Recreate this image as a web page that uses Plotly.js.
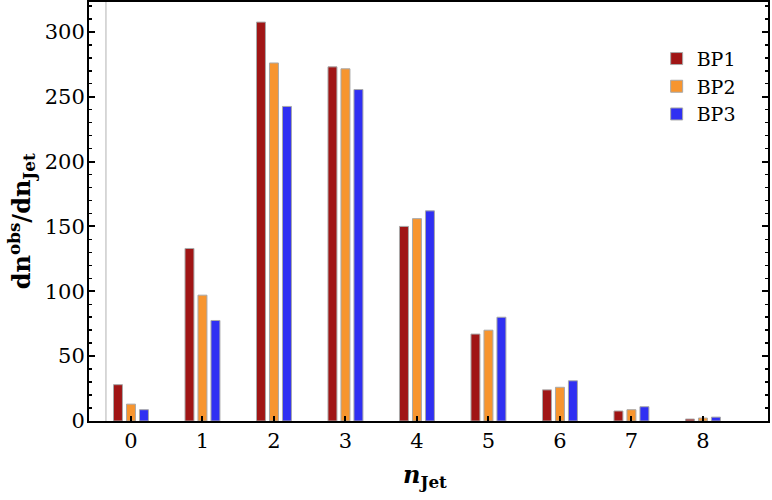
<!DOCTYPE html>
<html>
<head>
<meta charset="utf-8">
<script src="https://cdn.plot.ly/plotly-3.0.1.min.js"></script>
<style>html,body{margin:0;padding:0;background:#fff;}</style>
</head>
<body>
<div id="chart" style="width:772px;height:500px;"></div>
<script>
const categories = ["0","1","2","3","4","5","6","7","8"];
const bp1 = [28, 133, 307.5, 273, 150, 67, 24, 7.7, 1.5];
const bp2 = [13, 97, 276, 271.5, 156, 70, 26, 8.7, 2.3];
const bp3 = [8.7, 77.5, 242.5, 255.5, 162, 80, 31, 11, 3];
const seriesNames = ["BP1", "BP2", "BP3"];
const xTitle = "<b><i>n</i><sub>Jet</sub></b>";
const yTitle = "<b>dn<sup>obs</sup>/dn<sub>Jet</sub></b>";

const colors = ["#a01515", "#f7952f", "#2f2ff2"];
const xIdx = categories.map((c, i) => i);

const traces = [bp1, bp2, bp3].map((vals, k) => ({
  type: "bar",
  name: seriesNames[k],
  x: xIdx,
  y: vals,
  marker: {color: colors[k], line: {color: "#a8a8a8", width: 1}},
  hoverinfo: "y"
}));

const font = "DejaVu Serif";

const layout = {
  width: 772, height: 500,
  margin: {l: 89, r: 4, t: 2, b: 79},
  paper_bgcolor: "#fff", plot_bgcolor: "#fff",
  barmode: "group",
  bargap: 0.455,
  bargroupgap: 0.31,
  showlegend: true,
  legend: {
    x: 0.836, y: 0.91, xanchor: "left", yanchor: "top",
    bgcolor: "rgba(0,0,0,0)",
    font: {family: font, size: 19, color: "#000"},
    tracegroupgap: 0
  },
  xaxis: {
    type: "linear",
    range: [-0.587, 8.91],
    tickmode: "array",
    tickvals: xIdx,
    ticktext: categories,
    ticks: "inside", ticklen: 5, tickwidth: 2, tickcolor: "#000",
    showline: true, linecolor: "#000", linewidth: 2, mirror: true,
    showgrid: false, zeroline: false,
    tickfont: {family: font, size: 21, color: "#000"}
  },
  yaxis: {
    range: [0, 323],
    dtick: 50, tick0: 0,
    ticks: "inside", ticklen: 6, tickwidth: 2, tickcolor: "#000",
    minor: {dtick: 10, ticks: "inside", ticklen: 3, tickwidth: 1.5, tickcolor: "#000"},
    showline: true, linecolor: "#000", linewidth: 2, mirror: "ticks",
    showgrid: false, zeroline: false,
    ticklabelstandoff: -2,
    tickfont: {family: font, size: 21, color: "#000"}
  },
  annotations: [
    {text: xTitle, xref: "paper", yref: "paper", x: 0.495, y: -0.131,
     xanchor: "center", yanchor: "middle", showarrow: false,
     font: {family: font, size: 24, color: "#000"}},
    {text: yTitle, xref: "paper", yref: "paper", x: -0.1, y: 0.477,
     xanchor: "center", yanchor: "middle", showarrow: false, textangle: -90,
     font: {family: font, size: 24, color: "#000"}}
  ],
  shapes: [{
    type: "line", xref: "x", yref: "paper",
    x0: -0.35, x1: -0.35, y0: 0, y1: 1,
    line: {color: "#cccccc", width: 1.5},
    layer: "below"
  }]
};

Plotly.newPlot("chart", traces, layout, {displayModeBar: false, staticPlot: true});
</script>
</body>
</html>
